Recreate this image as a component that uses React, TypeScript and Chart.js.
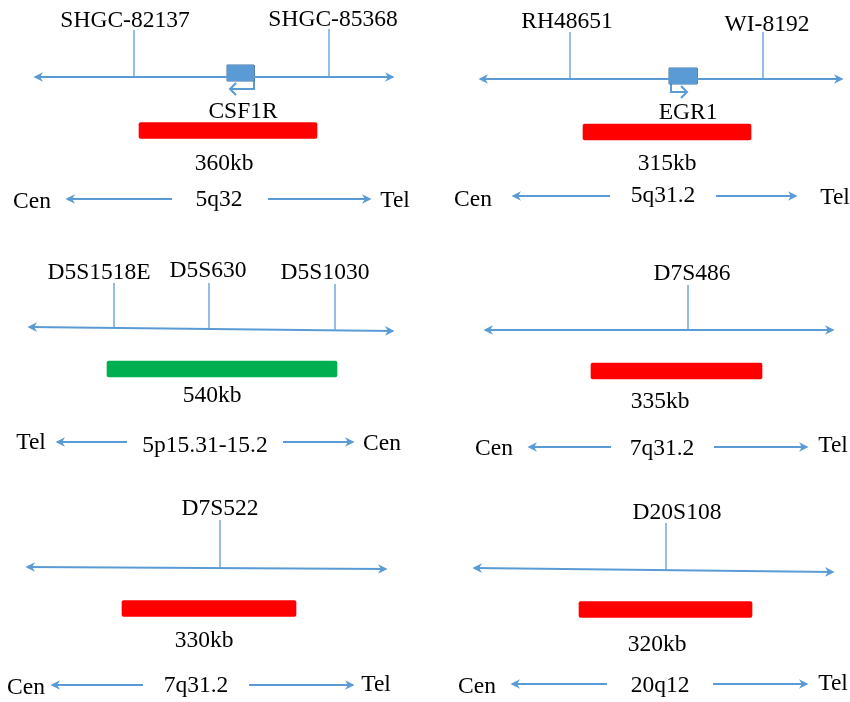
import React, { useEffect, useRef } from 'react';
import { Chart, registerables } from 'chart.js';

Chart.register(...registerables);

// ---------------- data ----------------
const bands = ['5q32', '5q31.2', '5p15.31-15.2', '7q31.2', '7q31.2', '20q12'];
const regionSizes = ['360kb', '315kb', '540kb', '335kb', '330kb', '320kb'];
const leftEnds = ['Cen', 'Cen', 'Tel', 'Cen', 'Cen', 'Cen'];
const rightEnds = ['Tel', 'Tel', 'Cen', 'Tel', 'Tel', 'Tel'];
const markerNames = [
  ['SHGC-82137', 'SHGC-85368'],
  ['RH48651', 'WI-8192'],
  ['D5S1518E', 'D5S630', 'D5S1030'],
  ['D7S486'],
  ['D7S522'],
  ['D20S108'],
];
// marker positions along each map (diagram x units)
const markerPositions = [[134, 329], [570, 763], [114, 209, 335], [688], [220], [666]];
// deleted / probed region along each map
const regionStart = [139, 583, 107, 591, 122, 579];
const regionEnd = [317, 751, 337, 762, 296, 752];
// genes (only first two panels)
const geneNames = ['CSF1R', 'EGR1'];
const geneStart = [227, 669];
const geneEnd = [254, 697];
const geneStrand = [-1, 1];

// ---------------- styles ----------------
const BLUE = '#5B9BD5';
const BOX_BORDER = '#41719C';
const regionColors = ['#FF0000', '#FF0000', '#00B050', '#FF0000', '#FF0000', '#FF0000'];
const FONT = '23.5px "Liberation Serif", "Times New Roman", serif';

// ---------------- layout ----------------
const layout = [
  {
    chrom: [35, 77, 393, 77], tickTop: [30, 29], labelX: [125, 333], labelY: [19.5, 18.5],
    box: [65, 81], geneArrowY: 89, geneArrowLen: 24, geneArrowInset: 0, geneLabel: [243, 110],
    barY: 130.5, sizeLabel: [224, 162],
    arrowY: 199, leftArrow: [172, 67], rightArrow: [268, 370],
    leftLabel: [32, 200], band: [219, 198], rightLabel: [395, 199],
  },
  {
    chrom: [480, 79, 842, 79], tickTop: [32, 32], labelX: [567, 767], labelY: [20, 23],
    box: [68, 84], geneArrowY: 92, geneArrowLen: 16, geneArrowInset: 2, geneLabel: [688, 111],
    barY: 132, sizeLabel: [667, 162],
    arrowY: 196, leftArrow: [610, 513], rightArrow: [716, 796],
    leftLabel: [473, 198], band: [663, 194], rightLabel: [835, 196],
  },
  {
    chrom: [29, 327, 393, 331], tickTop: [283, 283, 284], labelX: [99, 208, 325], labelY: [271, 269.5, 271],
    barY: 369, sizeLabel: [212, 394],
    arrowY: 442, leftArrow: [127, 57], rightArrow: [283, 353],
    leftLabel: [31, 441], band: [205, 444], rightLabel: [382, 442],
  },
  {
    chrom: [485, 330, 833, 330], tickTop: [285], labelX: [692], labelY: [272],
    barY: 371, sizeLabel: [660, 400],
    arrowY: 447, leftArrow: [611, 529], rightArrow: [714, 807],
    leftLabel: [494, 447], band: [662, 447], rightLabel: [833, 444],
  },
  {
    chrom: [27, 567, 386, 569], tickTop: [520], labelX: [220], labelY: [507.5],
    barY: 608.5, sizeLabel: [204, 639],
    arrowY: 685, leftArrow: [143, 52], rightArrow: [249, 353],
    leftLabel: [26, 686], band: [196, 684], rightLabel: [376, 683],
  },
  {
    chrom: [474, 568, 833, 572], tickTop: [523], labelX: [677], labelY: [511],
    barY: 609.5, sizeLabel: [657, 643],
    arrowY: 684, leftArrow: [607, 512], rightArrow: [713, 807],
    leftLabel: [477, 685], band: [660, 684], rightLabel: [833, 682],
  },
];

const lineBase = {
  type: 'line',
  pointRadius: 0,
  pointHoverRadius: 0,
  pointHitRadius: 0,
  fill: false,
  tension: 0,
  borderCapStyle: 'butt',
};

function buildDatasets() {
  const ds: any[] = [];
  layout.forEach((L, i) => {
    const [x0, y0, x1, y1] = L.chrom;
    const yAt = (x: number) => y0 + ((y1 - y0) * (x - x0)) / (x1 - x0);
    // chromosome map line
    ds.push({
      ...lineBase,
      data: [{ x: x0, y: y0 }, { x: x1, y: y1 }],
      borderColor: BLUE,
      borderWidth: 2,
      arrowStart: 'solid',
      arrowEnd: 'solid',
    });
    // marker ticks
    markerPositions[i].forEach((m, j) => {
      ds.push({
        ...lineBase,
        data: [{ x: m, y: L.tickTop[j] }, { x: m, y: yAt(m) }],
        borderColor: BLUE,
        borderWidth: 1.3,
      });
    });
    // orientation arrows
    ds.push({
      ...lineBase,
      data: [{ x: L.leftArrow[0], y: L.arrowY }, { x: L.leftArrow[1], y: L.arrowY }],
      borderColor: BLUE,
      borderWidth: 2,
      arrowEnd: 'solid',
    });
    ds.push({
      ...lineBase,
      data: [{ x: L.rightArrow[0], y: L.arrowY }, { x: L.rightArrow[1], y: L.arrowY }],
      borderColor: BLUE,
      borderWidth: 2,
      arrowEnd: 'solid',
    });
    // gene box + transcription arrow
    if (i < geneNames.length && (L as any).box) {
      const [by0, by1] = (L as any).box;
      const gs = geneStart[i];
      const ge = geneEnd[i];
      ds.push({
        ...lineBase,
        data: [{ x: gs, y: by0 }, { x: ge, y: by0 }],
        borderWidth: 0,
        borderColor: 'rgba(0,0,0,0)',
        backgroundColor: BLUE,
        fill: { value: by1 },
      });
      ds.push({
        ...lineBase,
        data: [
          { x: gs, y: by0 }, { x: ge, y: by0 }, { x: ge, y: by1 }, { x: gs, y: by1 }, { x: gs, y: by0 },
        ],
        borderColor: BOX_BORDER,
        borderWidth: 1,
        borderJoinStyle: 'miter',
      });
      const startX = geneStrand[i] < 0 ? ge - (L as any).geneArrowInset : gs + (L as any).geneArrowInset;
      const tipX = startX + geneStrand[i] * (L as any).geneArrowLen;
      ds.push({
        ...lineBase,
        data: [{ x: startX, y: by1 }, { x: startX, y: (L as any).geneArrowY }, { x: tipX, y: (L as any).geneArrowY }],
        borderColor: BLUE,
        borderWidth: 2,
        borderJoinStyle: 'miter',
        arrowEnd: 'open',
      });
    }
  });
  // region bars
  ds.push({
    type: 'bar',
    indexAxis: 'y',
    data: regionStart.map((s, i) => ({ x: [s, regionEnd[i]], y: layout[i].barY })),
    backgroundColor: regionColors,
    borderWidth: 0,
    barThickness: 16,
    borderRadius: 2,
    borderSkipped: false,
  });
  return ds;
}

function drawHead(ctx: CanvasRenderingContext2D, p: any, q: any, kind: string, color: string) {
  const ang = Math.atan2(p.y - q.y, p.x - q.x);
  const dx = Math.cos(ang);
  const dy = Math.sin(ang);
  const px = -dy;
  const py = dx;
  ctx.save();
  if (kind === 'solid') {
    const L = 9.5;
    const W = 4.8;
    const tx = p.x + dx * 1.5;
    const ty = p.y + dy * 1.5;
    ctx.fillStyle = color;
    ctx.beginPath();
    ctx.moveTo(tx, ty);
    ctx.lineTo(tx - dx * L + px * W, ty - dy * L + py * W);
    ctx.lineTo(tx - dx * L * 0.7, ty - dy * L * 0.7);
    ctx.lineTo(tx - dx * L - px * W, ty - dy * L - py * W);
    ctx.closePath();
    ctx.fill();
  } else {
    const L = 6;
    ctx.strokeStyle = color;
    ctx.lineWidth = 2;
    ctx.lineCap = 'butt';
    ctx.lineJoin = 'miter';
    ctx.beginPath();
    ctx.moveTo(p.x - dx * L + px * L, p.y - dy * L + py * L);
    ctx.lineTo(p.x, p.y);
    ctx.lineTo(p.x - dx * L - px * L, p.y - dy * L - py * L);
    ctx.stroke();
  }
  ctx.restore();
}

const arrowPlugin = {
  id: 'arrowHeads',
  afterDatasetsDraw(chart: any) {
    const ctx = chart.ctx;
    chart.data.datasets.forEach((d: any, i: number) => {
      if (!d.arrowStart && !d.arrowEnd) return;
      const pts = chart.getDatasetMeta(i).data;
      const n = pts.length;
      if (n < 2) return;
      if (d.arrowEnd) drawHead(ctx, pts[n - 1], pts[n - 2], d.arrowEnd, d.borderColor);
      if (d.arrowStart) drawHead(ctx, pts[0], pts[1], d.arrowStart, d.borderColor);
    });
  },
};

const textPlugin = {
  id: 'diagramText',
  afterDatasetsDraw(chart: any) {
    const { ctx, scales } = chart;
    const sx = (v: number) => scales.x.getPixelForValue(v);
    const sy = (v: number) => scales.y.getPixelForValue(v);
    const put = (t: string, x: number, y: number) => {
      ctx.fillText(t, sx(x), sy(y) + 7.7);
    };
    ctx.save();
    ctx.font = FONT;
    ctx.fillStyle = '#000';
    ctx.textAlign = 'center';
    ctx.textBaseline = 'alphabetic';
    layout.forEach((L: any, i) => {
      markerNames[i].forEach((name, j) => put(name, L.labelX[j], L.labelY[j]));
      if (i < geneNames.length && L.geneLabel) put(geneNames[i], L.geneLabel[0], L.geneLabel[1]);
      put(regionSizes[i], L.sizeLabel[0], L.sizeLabel[1]);
      put(leftEnds[i], L.leftLabel[0], L.leftLabel[1]);
      put(bands[i], L.band[0], L.band[1]);
      put(rightEnds[i], L.rightLabel[0], L.rightLabel[1]);
    });
    ctx.restore();
  },
};

export default function App() {
  const ref = useRef<HTMLCanvasElement>(null);
  useEffect(() => {
    if (!ref.current) return;
    const chart = new Chart(ref.current, {
      type: 'line',
      data: { datasets: buildDatasets() },
      options: {
        animation: false,
        responsive: false,
        events: [],
        layout: { padding: 0 },
        scales: {
          x: { type: 'linear', min: 0, max: 850, display: false, offset: false },
          y: { type: 'linear', min: 0, max: 702, reverse: true, display: false, offset: false },
        },
        plugins: {
          legend: { display: false },
          tooltip: { enabled: false },
        },
      },
      plugins: [arrowPlugin, textPlugin],
    } as any);
    return () => chart.destroy();
  }, []);
  return (
    <div style={{ position: 'absolute', left: 0, top: 0, width: 850, height: 702, background: '#fff' }}>
      <canvas ref={ref} width={850} height={702} style={{ display: 'block', width: 850, height: 702 }} />
    </div>
  );
}
